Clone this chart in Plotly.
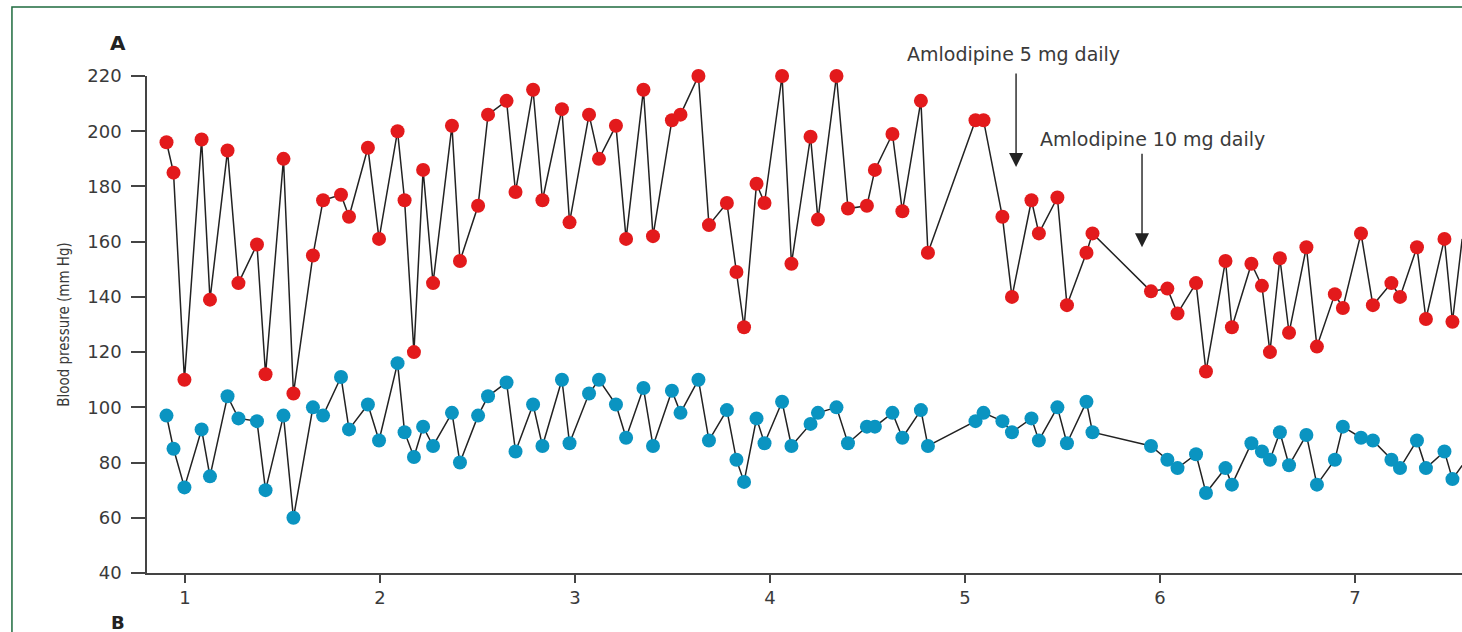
import plotly.graph_objects as go

# Time (weeks) of each measurement
weeks = [0.905, 0.941, 0.997, 1.085, 1.128, 1.218, 1.274, 1.369, 1.413, 1.505,
         1.556, 1.656, 1.708, 1.800, 1.841, 1.938, 1.995, 2.090, 2.126, 2.174,
         2.221, 2.272, 2.369, 2.410, 2.503, 2.554, 2.649, 2.695, 2.785, 2.833,
         2.933, 2.972, 3.072, 3.123, 3.210, 3.262, 3.351, 3.400, 3.497, 3.541,
         3.633, 3.687, 3.779, 3.828, 3.867, 3.931, 3.972, 4.062, 4.110, 4.208,
         4.246, 4.341, 4.400, 4.497, 4.538, 4.628, 4.679, 4.774, 4.810, 5.054,
         5.095, 5.192, 5.241, 5.341, 5.379, 5.474, 5.523, 5.623, 5.654, 5.954,
         6.038, 6.090, 6.185, 6.236, 6.336, 6.369, 6.469, 6.523, 6.564, 6.615,
         6.662, 6.751, 6.805, 6.897, 6.938, 7.031, 7.092, 7.187, 7.231, 7.318,
         7.364, 7.459, 7.500, 7.550]

systolic = [196, 185, 110, 197, 139, 193, 145, 159, 112, 190,
            105, 155, 175, 177, 169, 194, 161, 200, 175, 120,
            186, 145, 202, 153, 173, 206, 211, 178, 215, 175,
            208, 167, 206, 190, 202, 161, 215, 162, 204, 206,
            220, 166, 174, 149, 129, 181, 174, 220, 152, 198,
            168, 220, 172, 173, 186, 199, 171, 211, 156, 204,
            204, 169, 140, 175, 163, 176, 137, 156, 163, 142,
            143, 134, 145, 113, 153, 129, 152, 144, 120, 154,
            127, 158, 122, 141, 136, 163, 137, 145, 140, 158,
            132, 161, 131, 161]

diastolic = [97, 85, 71, 92, 75, 104, 96, 95, 70, 97,
             60, 100, 97, 111, 92, 101, 88, 116, 91, 82,
             93, 86, 98, 80, 97, 104, 109, 84, 101, 86,
             110, 87, 105, 110, 101, 89, 107, 86, 106, 98,
             110, 88, 99, 81, 73, 96, 87, 102, 86, 94,
             98, 100, 87, 93, 93, 98, 89, 99, 86, 95,
             98, 95, 91, 96, 88, 100, 87, 102, 91, 86,
             81, 78, 83, 69, 78, 72, 87, 84, 81, 91,
             79, 90, 72, 81, 93, 89, 88, 81, 78, 88,
             78, 84, 74, 79]

y_ticks = [40, 60, 80, 100, 120, 140, 160, 180, 200, 220]
x_ticks = [1, 2, 3, 4, 5, 6, 7]

events = [
    {"label": "Amlodipine 5 mg daily", "week": 5.262, "tip": 187, "text_x": 5.249, "text_y": 1.0443},
    {"label": "Amlodipine 10 mg daily", "week": 5.908, "tip": 158, "text_x": 5.962, "text_y": 0.873},
]

RED = "#e31a1c"
BLUE = "#0a94c1"
LINE = "#222222"
TXT = "#3a3a3a"
FONT = "DejaVu Sans, Verdana, sans-serif"

fig = go.Figure()
for vals, col in [(systolic, RED), (diastolic, BLUE)]:
    fig.add_trace(go.Scatter(
        x=weeks, y=vals, mode="lines+markers",
        line=dict(color=LINE, width=1.5),
        marker=dict(color=col, size=14, line=dict(width=0)),
        cliponaxis=False, showlegend=False, hoverinfo="x+y"))

annotations = []
for ev in events:
    annotations.append(dict(
        x=ev["week"], y=ev["tip"], xref="x", yref="y", text="",
        showarrow=True, arrowhead=2, arrowsize=2, arrowwidth=1.4,
        arrowcolor="#222222", ax=0, ay=-95, axref="pixel", ayref="pixel"))
    annotations.append(dict(
        x=ev["text_x"], y=ev["text_y"], xref="x", yref="paper", text=ev["label"],
        showarrow=False, font=dict(family=FONT, size=19, color=TXT),
        xanchor="center", yanchor="middle"))

annotations.append(dict(x=-0.0221, y=1.0664, xref="paper", yref="paper", text="<b>A</b>",
                        showarrow=False, font=dict(family=FONT, size=20, color="#222"),
                        xanchor="center", yanchor="middle"))
annotations.append(dict(x=-0.0221, y=-0.1005, xref="paper", yref="paper", text="<b>B</b>",
                        showarrow=False, font=dict(family=FONT, size=18, color="#222"),
                        xanchor="center", yanchor="middle"))

shapes = [dict(type="rect", xref="paper", yref="paper",
               x0=-0.1027, x1=1.2, y0=-0.3, y1=1.1388,
               line=dict(color="#1f6b3f", width=1.5), fillcolor="rgba(0,0,0,0)", layer="below")]

fig.update_layout(
    width=1462, height=632,
    margin=dict(l=147, r=0, t=76, b=59),
    paper_bgcolor="white", plot_bgcolor="white",
    font=dict(family=FONT, color=TXT),
    annotations=annotations, shapes=shapes,
    xaxis=dict(range=[0.805, 7.549], tickvals=x_ticks, ticktext=[str(t) for t in x_ticks],
               showgrid=False, zeroline=False, showline=True, linecolor="#444", linewidth=1.5,
               ticks="outside", ticklen=8, tickwidth=1.5, tickcolor="#444",
               tickfont=dict(family=FONT, size=18, color=TXT)),
    yaxis=dict(range=[40, 220], tickvals=y_ticks, ticktext=[str(t) for t in y_ticks],
               showgrid=False, zeroline=False, showline=True, linecolor="#444", linewidth=1.5,
               ticks="outside", ticklen=14, tickwidth=1.5, tickcolor="#444",
               ticklabelstandoff=6,
               tickfont=dict(family=FONT, size=18, color=TXT),
               title=dict(text="Blood pressure (mm Hg)", standoff=14,
                          font=dict(family="Liberation Sans Narrow, DejaVu Sans Condensed, sans-serif",
                                    size=15, color=TXT))),
)

fig.write_html("out.html", config={"displayModeBar": False},
               post_script="document.body.style.margin='0';document.body.style.overflow='hidden';")
